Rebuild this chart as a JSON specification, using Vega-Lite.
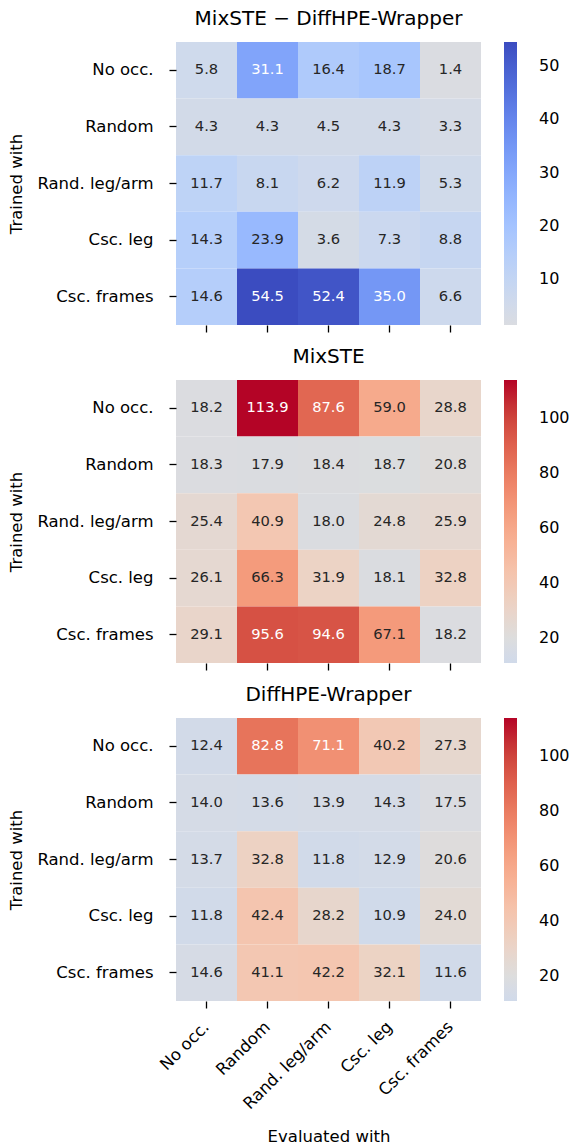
{
  "$schema": "https://vega.github.io/schema/vega-lite/v6.json",
  "padding": {"left": 8, "top": 9, "right": 0, "bottom": 0},
  "background": "white",
  "config": {
    "view": {"stroke": null},
    "font": "DejaVu Sans",
    "title": {"font": "DejaVu Sans", "fontSize": 20, "fontWeight": "normal", "color": "#000000", "anchor": "middle", "frame": "group", "offset": 13},
    "axis": {"labelFont": "DejaVu Sans", "titleFont": "DejaVu Sans", "labelColor": "#000000", "titleColor": "#000000", "tickColor": "#000000", "tickWidth": 1.3, "tickSize": 7, "domain": false, "grid": false, "labelFontSize": 16.5, "titleFontSize": 16.5, "titleFontWeight": "normal"},
    "legend": {"labelFont": "DejaVu Sans", "labelFontSize": 16, "labelColor": "#000000", "gradientLength": 283, "gradientThickness": 13, "offset": 23, "labelOffset": 22, "gradientStrokeWidth": 0, "labelOverlap": false, "direction": "vertical", "orient": "right", "padding": 0}
  },
  "data": {"values": [
    {"model": "diff", "trained": "No occ.", "evaluated": "No occ.", "value": 5.8},
    {"model": "diff", "trained": "No occ.", "evaluated": "Random", "value": 31.1},
    {"model": "diff", "trained": "No occ.", "evaluated": "Rand. leg/arm", "value": 16.4},
    {"model": "diff", "trained": "No occ.", "evaluated": "Csc. leg", "value": 18.7},
    {"model": "diff", "trained": "No occ.", "evaluated": "Csc. frames", "value": 1.4},
    {"model": "diff", "trained": "Random", "evaluated": "No occ.", "value": 4.3},
    {"model": "diff", "trained": "Random", "evaluated": "Random", "value": 4.3},
    {"model": "diff", "trained": "Random", "evaluated": "Rand. leg/arm", "value": 4.5},
    {"model": "diff", "trained": "Random", "evaluated": "Csc. leg", "value": 4.3},
    {"model": "diff", "trained": "Random", "evaluated": "Csc. frames", "value": 3.3},
    {"model": "diff", "trained": "Rand. leg/arm", "evaluated": "No occ.", "value": 11.7},
    {"model": "diff", "trained": "Rand. leg/arm", "evaluated": "Random", "value": 8.1},
    {"model": "diff", "trained": "Rand. leg/arm", "evaluated": "Rand. leg/arm", "value": 6.2},
    {"model": "diff", "trained": "Rand. leg/arm", "evaluated": "Csc. leg", "value": 11.9},
    {"model": "diff", "trained": "Rand. leg/arm", "evaluated": "Csc. frames", "value": 5.3},
    {"model": "diff", "trained": "Csc. leg", "evaluated": "No occ.", "value": 14.3},
    {"model": "diff", "trained": "Csc. leg", "evaluated": "Random", "value": 23.9},
    {"model": "diff", "trained": "Csc. leg", "evaluated": "Rand. leg/arm", "value": 3.6},
    {"model": "diff", "trained": "Csc. leg", "evaluated": "Csc. leg", "value": 7.3},
    {"model": "diff", "trained": "Csc. leg", "evaluated": "Csc. frames", "value": 8.8},
    {"model": "diff", "trained": "Csc. frames", "evaluated": "No occ.", "value": 14.6},
    {"model": "diff", "trained": "Csc. frames", "evaluated": "Random", "value": 54.5},
    {"model": "diff", "trained": "Csc. frames", "evaluated": "Rand. leg/arm", "value": 52.4},
    {"model": "diff", "trained": "Csc. frames", "evaluated": "Csc. leg", "value": 35.0},
    {"model": "diff", "trained": "Csc. frames", "evaluated": "Csc. frames", "value": 6.6},

    {"model": "mixste", "trained": "No occ.", "evaluated": "No occ.", "value": 18.2},
    {"model": "mixste", "trained": "No occ.", "evaluated": "Random", "value": 113.9},
    {"model": "mixste", "trained": "No occ.", "evaluated": "Rand. leg/arm", "value": 87.6},
    {"model": "mixste", "trained": "No occ.", "evaluated": "Csc. leg", "value": 59.0},
    {"model": "mixste", "trained": "No occ.", "evaluated": "Csc. frames", "value": 28.8},
    {"model": "mixste", "trained": "Random", "evaluated": "No occ.", "value": 18.3},
    {"model": "mixste", "trained": "Random", "evaluated": "Random", "value": 17.9},
    {"model": "mixste", "trained": "Random", "evaluated": "Rand. leg/arm", "value": 18.4},
    {"model": "mixste", "trained": "Random", "evaluated": "Csc. leg", "value": 18.7},
    {"model": "mixste", "trained": "Random", "evaluated": "Csc. frames", "value": 20.8},
    {"model": "mixste", "trained": "Rand. leg/arm", "evaluated": "No occ.", "value": 25.4},
    {"model": "mixste", "trained": "Rand. leg/arm", "evaluated": "Random", "value": 40.9},
    {"model": "mixste", "trained": "Rand. leg/arm", "evaluated": "Rand. leg/arm", "value": 18.0},
    {"model": "mixste", "trained": "Rand. leg/arm", "evaluated": "Csc. leg", "value": 24.8},
    {"model": "mixste", "trained": "Rand. leg/arm", "evaluated": "Csc. frames", "value": 25.9},
    {"model": "mixste", "trained": "Csc. leg", "evaluated": "No occ.", "value": 26.1},
    {"model": "mixste", "trained": "Csc. leg", "evaluated": "Random", "value": 66.3},
    {"model": "mixste", "trained": "Csc. leg", "evaluated": "Rand. leg/arm", "value": 31.9},
    {"model": "mixste", "trained": "Csc. leg", "evaluated": "Csc. leg", "value": 18.1},
    {"model": "mixste", "trained": "Csc. leg", "evaluated": "Csc. frames", "value": 32.8},
    {"model": "mixste", "trained": "Csc. frames", "evaluated": "No occ.", "value": 29.1},
    {"model": "mixste", "trained": "Csc. frames", "evaluated": "Random", "value": 95.6},
    {"model": "mixste", "trained": "Csc. frames", "evaluated": "Rand. leg/arm", "value": 94.6},
    {"model": "mixste", "trained": "Csc. frames", "evaluated": "Csc. leg", "value": 67.1},
    {"model": "mixste", "trained": "Csc. frames", "evaluated": "Csc. frames", "value": 18.2},

    {"model": "diffhpe", "trained": "No occ.", "evaluated": "No occ.", "value": 12.4},
    {"model": "diffhpe", "trained": "No occ.", "evaluated": "Random", "value": 82.8},
    {"model": "diffhpe", "trained": "No occ.", "evaluated": "Rand. leg/arm", "value": 71.1},
    {"model": "diffhpe", "trained": "No occ.", "evaluated": "Csc. leg", "value": 40.2},
    {"model": "diffhpe", "trained": "No occ.", "evaluated": "Csc. frames", "value": 27.3},
    {"model": "diffhpe", "trained": "Random", "evaluated": "No occ.", "value": 14.0},
    {"model": "diffhpe", "trained": "Random", "evaluated": "Random", "value": 13.6},
    {"model": "diffhpe", "trained": "Random", "evaluated": "Rand. leg/arm", "value": 13.9},
    {"model": "diffhpe", "trained": "Random", "evaluated": "Csc. leg", "value": 14.3},
    {"model": "diffhpe", "trained": "Random", "evaluated": "Csc. frames", "value": 17.5},
    {"model": "diffhpe", "trained": "Rand. leg/arm", "evaluated": "No occ.", "value": 13.7},
    {"model": "diffhpe", "trained": "Rand. leg/arm", "evaluated": "Random", "value": 32.8},
    {"model": "diffhpe", "trained": "Rand. leg/arm", "evaluated": "Rand. leg/arm", "value": 11.8},
    {"model": "diffhpe", "trained": "Rand. leg/arm", "evaluated": "Csc. leg", "value": 12.9},
    {"model": "diffhpe", "trained": "Rand. leg/arm", "evaluated": "Csc. frames", "value": 20.6},
    {"model": "diffhpe", "trained": "Csc. leg", "evaluated": "No occ.", "value": 11.8},
    {"model": "diffhpe", "trained": "Csc. leg", "evaluated": "Random", "value": 42.4},
    {"model": "diffhpe", "trained": "Csc. leg", "evaluated": "Rand. leg/arm", "value": 28.2},
    {"model": "diffhpe", "trained": "Csc. leg", "evaluated": "Csc. leg", "value": 10.9},
    {"model": "diffhpe", "trained": "Csc. leg", "evaluated": "Csc. frames", "value": 24.0},
    {"model": "diffhpe", "trained": "Csc. frames", "evaluated": "No occ.", "value": 14.6},
    {"model": "diffhpe", "trained": "Csc. frames", "evaluated": "Random", "value": 41.1},
    {"model": "diffhpe", "trained": "Csc. frames", "evaluated": "Rand. leg/arm", "value": 42.2},
    {"model": "diffhpe", "trained": "Csc. frames", "evaluated": "Csc. leg", "value": 32.1},
    {"model": "diffhpe", "trained": "Csc. frames", "evaluated": "Csc. frames", "value": 11.6}
  ]},
  "spacing": 14,
  "resolve": {"scale": {"color": "independent"}, "legend": {"color": "independent"}},
  "vconcat": [
    {
      "title": "MixSTE − DiffHPE-Wrapper",
      "width": 305, "height": 283,
      "transform": [{"filter": "datum.model === 'diff'"}],
      "encoding": {
        "x": {"field": "evaluated", "type": "nominal", "sort": ["No occ.", "Random", "Rand. leg/arm", "Csc. leg", "Csc. frames"], "scale": {"paddingInner": 0, "paddingOuter": 0}, "axis": {"labels": false, "title": null}},
        "y": {"field": "trained", "type": "nominal", "sort": ["No occ.", "Random", "Rand. leg/arm", "Csc. leg", "Csc. frames"], "scale": {"paddingInner": 0, "paddingOuter": 0}, "axis": {"title": "Trained with", "labelPadding": 16, "titlePadding": 12}}
      },
      "layer": [
        {"mark": "rect", "encoding": {"color": {"field": "value", "type": "quantitative", "scale": {"domain": [1.4, 6.81, 13.625, 20.44, 27.25, 34.06, 40.875, 47.69, 54.5], "range": ["#dadce1", "#ccd9ee", "#b8d0f9", "#a3c2ff", "#8db0fe", "#779af7", "#6282ea", "#4d68d7", "#3b4cc0"], "interpolate": "rgb"}, "legend": {"title": null, "values": [10, 20, 30, 40, 50], "labelOffset": 22, "labelFontSize": 16, "labelColor": "#000000", "offset": 23}}}},
        {"mark": {"type": "text", "fontSize": 14.7, "font": "DejaVu Sans"}, "encoding": {"text": {"field": "value", "type": "quantitative", "format": ".1f"}, "color": {"condition": {"test": "datum.value > 28", "value": "#ffffff"}, "value": "#262626"}}}
      ]
    },
    {
      "title": "MixSTE",
      "width": 305, "height": 283,
      "transform": [{"filter": "datum.model === 'mixste'"}],
      "encoding": {
        "x": {"field": "evaluated", "type": "nominal", "sort": ["No occ.", "Random", "Rand. leg/arm", "Csc. leg", "Csc. frames"], "scale": {"paddingInner": 0, "paddingOuter": 0}, "axis": {"labels": false, "title": null}},
        "y": {"field": "trained", "type": "nominal", "sort": ["No occ.", "Random", "Rand. leg/arm", "Csc. leg", "Csc. frames"], "scale": {"paddingInner": 0, "paddingOuter": 0}, "axis": {"title": "Trained with", "labelPadding": 16, "titlePadding": 12}}
      },
      "layer": [
        {"mark": "rect", "encoding": {"color": {"field": "value", "type": "quantitative", "scale": {"domain": [10.9, 14.13, 20, 31.74, 43.48, 55.21, 66.95, 78.69, 90.43, 102.16, 113.9], "range": ["#d0daea", "#d5dbe6", "#dddddd", "#ecd3c5", "#f5c4ad", "#f7b194", "#f49a7b", "#ec7f63", "#de604d", "#cb3e38", "#b40426"], "interpolate": "rgb"}, "legend": {"title": null, "values": [20, 40, 60, 80, 100], "labelOffset": 22, "labelFontSize": 16, "labelColor": "#000000", "offset": 23}}}},
        {"mark": {"type": "text", "fontSize": 14.7, "font": "DejaVu Sans"}, "encoding": {"text": {"field": "value", "type": "quantitative", "format": ".1f"}, "color": {"condition": {"test": "datum.value > 69", "value": "#ffffff"}, "value": "#262626"}}}
      ]
    },
    {
      "title": "DiffHPE-Wrapper",
      "width": 305, "height": 283,
      "transform": [{"filter": "datum.model === 'diffhpe'"}],
      "encoding": {
        "x": {"field": "evaluated", "type": "nominal", "sort": ["No occ.", "Random", "Rand. leg/arm", "Csc. leg", "Csc. frames"], "scale": {"paddingInner": 0, "paddingOuter": 0}, "axis": {"title": "Evaluated with", "labelAngle": -45, "labelAlign": "right", "labelBaseline": "middle", "labelPadding": 16, "titlePadding": 16, "labelOverlap": false, "labelBound": false}},
        "y": {"field": "trained", "type": "nominal", "sort": ["No occ.", "Random", "Rand. leg/arm", "Csc. leg", "Csc. frames"], "scale": {"paddingInner": 0, "paddingOuter": 0}, "axis": {"title": "Trained with", "labelPadding": 16, "titlePadding": 12}}
      },
      "layer": [
        {"mark": "rect", "encoding": {"color": {"field": "value", "type": "quantitative", "scale": {"domain": [10.9, 14.13, 20, 31.74, 43.48, 55.21, 66.95, 78.69, 90.43, 102.16, 113.9], "range": ["#d0daea", "#d5dbe6", "#dddddd", "#ecd3c5", "#f5c4ad", "#f7b194", "#f49a7b", "#ec7f63", "#de604d", "#cb3e38", "#b40426"], "interpolate": "rgb"}, "legend": {"title": null, "values": [20, 40, 60, 80, 100], "labelOffset": 22, "labelFontSize": 16, "labelColor": "#000000", "offset": 23}}}},
        {"mark": {"type": "text", "fontSize": 14.7, "font": "DejaVu Sans"}, "encoding": {"text": {"field": "value", "type": "quantitative", "format": ".1f"}, "color": {"condition": {"test": "datum.value > 69", "value": "#ffffff"}, "value": "#262626"}}}
      ]
    }
  ]
}
